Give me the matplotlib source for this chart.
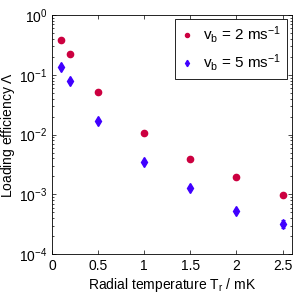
"""
Loading efficiency against radial temperature for two beam velocities
"""

import numpy as np
import matplotlib
matplotlib.use("Agg")
from matplotlib import pyplot as plt

plt.rcParams['font.family'] = ['Liberation Sans', 'DejaVu Sans']
plt.rcParams['mathtext.fontset'] = 'custom'
plt.rcParams['mathtext.rm'] = 'Liberation Sans'
plt.rcParams['mathtext.it'] = 'Liberation Sans'
plt.rcParams['mathtext.default'] = 'regular'

temperature = [0.1, 0.2, 0.5, 1.0, 1.5, 2.0, 2.5]
eff_v2 = [0.38, 0.225, 0.052, 0.0105, 0.0039, 0.00195, 0.00098]
eff_v5 = [0.136, 0.080, 0.017, 0.0035, 0.00126, 0.00053, 0.00032]
err_v5 = [0.006, 0.003, 0.0007, 0.00014, 0.00009, 0.00004, 0.00005]

RED = (0.8, 0.0, 0.25)
BLUE = (0.25, 0.0, 1.0)

fig = plt.figure(figsize=(2.99, 3.0), dpi=100)
ax = fig.add_axes([0.174, 0.153, 0.802, 0.797])

ax.plot(temperature, eff_v2, 'o', color=RED, markersize=4.5,
        label=r'v$_b$ = 2 ms$^{-1}$')
ax.errorbar(temperature, eff_v5, yerr=err_v5, fmt='none', ecolor=BLUE,
            elinewidth=0.8, capsize=1.5, capthick=0.8)
ax.plot(temperature, eff_v5, 'd', color=BLUE, markersize=5,
        label=r'v$_b$ = 5 ms$^{-1}$')

ax.set_yscale('log')
ax.set_xlim(0, 2.6)
ax.set_ylim(1e-4, 1)
ax.set_xticks([0, 0.5, 1, 1.5, 2, 2.5])
ax.set_xticklabels(['0', '0.5', '1', '1.5', '2', '2.5'])
ax.tick_params(which='both', direction='in', top=True, right=True,
               labelsize=10, width=0.5)
ax.tick_params(which='major', length=3)
ax.tick_params(which='minor', length=1.5)
for s in ax.spines.values():
    s.set_linewidth(0.6)

ax.set_xlabel(r'Radial temperature T$_r$ / mK', fontsize=10, labelpad=2)
ax.set_ylabel(r'Loading efficiency $\Lambda$', fontsize=10, labelpad=1)

leg = ax.legend(loc='upper right', fontsize=11, markerscale=0.65,
                handlelength=0.9, handletextpad=0.6, borderpad=0.35,
                labelspacing=0.45, borderaxespad=0, fancybox=False,
                framealpha=1, edgecolor='black',
                bbox_to_anchor=(0.979, 0.983))
leg.get_frame().set_linewidth(0.6)

fig.savefig('out.png', dpi=100)
